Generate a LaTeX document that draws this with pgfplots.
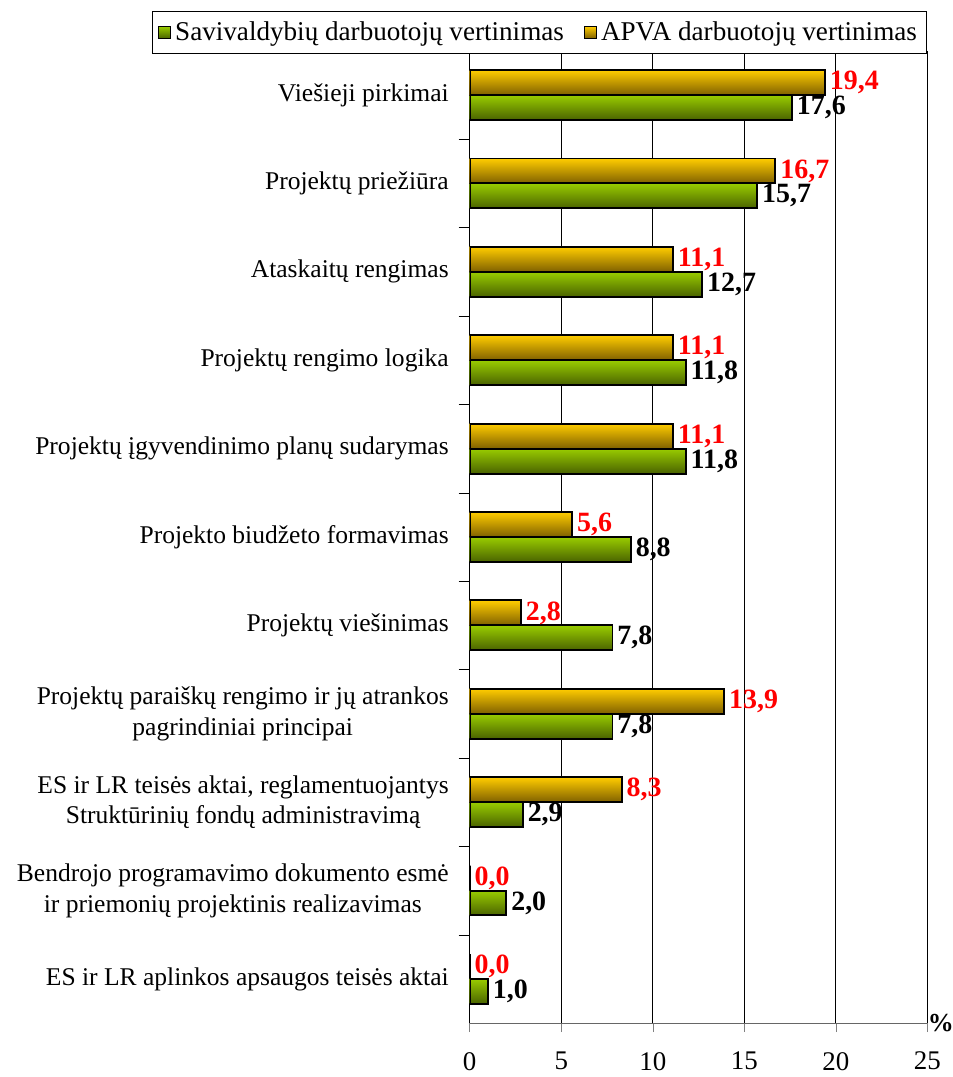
\documentclass[border=0pt]{standalone}
\usepackage{fontspec}
\setmainfont{Liberation Serif}
\usepackage{pgfplots}
\pgfplotsset{compat=1.18}

\definecolor{grTop}{HTML}{99CC00}
\definecolor{grBot}{HTML}{4A6300}
\definecolor{yeTop}{HTML}{FFCC00}
\definecolor{yeBot}{HTML}{7F6000}
\definecolor{valRed}{HTML}{FF0000}

\tikzset{valfont/.style={font=\bfseries\fontsize{14}{14}\selectfont, inner sep=2pt}}

% one bar per \addplot so that every bar gets its own gradient
\pgfplotsset{
    sav/.style={draw=black, line width=1pt, top color=grTop, bottom color=grBot,
        bar shift=-6.25pt,
        every node near coord/.append style={valfont, text=black}},
    apva/.style={draw=black, line width=1pt, top color=yeTop, bottom color=yeBot,
        bar shift=6.25pt,
        every node near coord/.append style={valfont, text=valRed}},
}

\begin{document}
\begin{tikzpicture}
\begin{axis}[
    name=ax,
    scale only axis,
    width=229.5pt, height=487.5pt,
    xbar,
    bar width=12.5pt,
    xmin=0, xmax=25,
    ymin=-0.5, ymax=10.5,
    axis x line=bottom,
    axis y line=left,
    axis line style={-},
    x axis line style={gray!80!black},
    tick align=outside,
    xtick={0,5,...,25},
    xticklabels={0,5,10,15,20,25},
    ytick={0,...,10},
    minor ytick={0.5,1.5,...,9.5},
    major tick length=4.5pt,
    minor tick length=5.5pt,
    major y tick style={draw=none},
    minor y tick style={black},
    xmajorgrids,
    grid style={black, line width=0.5pt},
    xticklabel style={font=\fontsize{13.5}{15}\selectfont, yshift=-6.5pt},
    yticklabels={
        {ES ir LR aplinkos apsaugos teisės aktai},
        {Bendrojo programavimo dokumento esmė\\ir priemonių projektinis realizavimas},
        {ES ir LR teisės aktai, reglamentuojantys\\Struktūrinių fondų administravimą},
        {Projektų paraiškų rengimo ir jų atrankos\\pagrindiniai principai},
        {Projektų viešinimas},
        {Projekto biudžeto formavimas},
        {Projektų įgyvendinimo planų sudarymas},
        {Projektų rengimo logika},
        {Ataskaitų rengimas},
        {Projektų priežiūra},
        {Viešieji pirkimai}
    },
    yticklabel style={font=\fontsize{12.8}{15.5}\selectfont, align=center, xshift=-2.5pt},
    xlabel={\%},
    xlabel style={at={(axis description cs:1,0)}, anchor=west, font=\bfseries\fontsize{13}{13}\selectfont, inner sep=0pt},
    nodes near coords={\pgfmathprintnumber[assume math mode=true, use comma, fixed, fixed zerofill, precision=1]{\pgfplotspointmeta}},
    nodes near coords align={horizontal},
    legend columns=2,
    legend style={
        at={(1,1)}, anchor=south east, yshift=-1.5pt,
        draw=black, line width=0.5pt,
        font=\fontsize{13.6}{15}\selectfont,
        inner xsep=3pt, inner ysep=3pt,
        /tikz/every even column/.append style={column sep=8pt}
    },
    legend image code/.code={\draw[#1, line width=0.6pt] (0pt,-3pt) rectangle (6pt,3pt);},
]
% Savivaldybiu darbuotoju vertinimas / APVA darbuotoju vertinimas
\addplot[sav] coordinates {(17.6,10)};
\addplot[apva] coordinates {(19.4,10)};
\addplot[sav, forget plot] coordinates {(15.7,9)};
\addplot[apva, forget plot] coordinates {(16.7,9)};
\addplot[sav, forget plot] coordinates {(12.7,8)};
\addplot[apva, forget plot] coordinates {(11.1,8)};
\addplot[sav, forget plot] coordinates {(11.8,7)};
\addplot[apva, forget plot] coordinates {(11.1,7)};
\addplot[sav, forget plot] coordinates {(11.8,6)};
\addplot[apva, forget plot] coordinates {(11.1,6)};
\addplot[sav, forget plot] coordinates {(8.8,5)};
\addplot[apva, forget plot] coordinates {(5.6,5)};
\addplot[sav, forget plot] coordinates {(7.8,4)};
\addplot[apva, forget plot] coordinates {(2.8,4)};
\addplot[sav, forget plot] coordinates {(7.8,3)};
\addplot[apva, forget plot] coordinates {(13.9,3)};
\addplot[sav, forget plot] coordinates {(2.9,2)};
\addplot[apva, forget plot] coordinates {(8.3,2)};
\addplot[sav, forget plot] coordinates {(2.0,1)};
\addplot[apva, forget plot] coordinates {(0.0,1)};
\addplot[sav, forget plot] coordinates {(1.0,0)};
\addplot[apva, forget plot] coordinates {(0.0,0)};
\legend{Savivaldybių darbuotojų vertinimas, APVA darbuotojų vertinimas}
\end{axis}
\pgfresetboundingbox
\path ([xshift=-235.5pt,yshift=-27pt]ax.south west) rectangle ([xshift=12.5pt,yshift=25.5pt]ax.north east);
\end{tikzpicture}
\end{document}
